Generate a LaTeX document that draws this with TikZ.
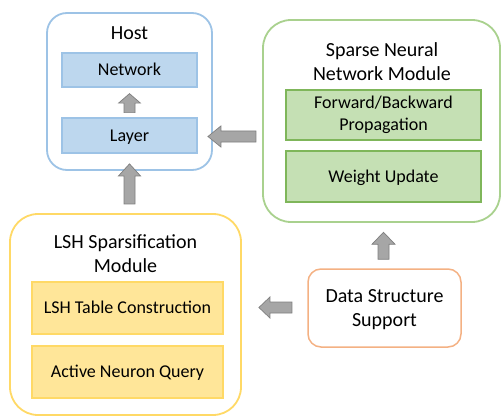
\documentclass[tikz,border=0pt]{standalone}
\usepackage{fontspec}
\setmainfont{Carlito}
\usetikzlibrary{calc}

\definecolor{hostline}{HTML}{9DC3E6}
\definecolor{hostfill}{HTML}{BDD7EE}
\definecolor{snnline}{HTML}{A9D18E}
\definecolor{snninner}{HTML}{7FB65A}
\definecolor{snnfill}{HTML}{C5E0B4}
\definecolor{lshline}{HTML}{FFD966}
\definecolor{lshinner}{HTML}{FFD966}
\definecolor{lshfill}{HTML}{FFE699}
\definecolor{dssline}{HTML}{F4B183}
\definecolor{arrfill}{HTML}{A6A6A6}
\definecolor{arrline}{HTML}{7F7F7F}

\tikzset{
  module/.style={draw, line width=1.8pt, fill=white, inner sep=0pt},
  title/.style={font=\fontsize{20}{24}\selectfont, align=center, inner sep=0pt},
  part/.style={draw, line width=1.3pt, inner sep=0pt,
    font=\fontsize{18}{22}\selectfont, align=center},
  oneline/.style={text height=11.6pt, text depth=0pt},
  blockarrow/.style={fill=arrfill, draw=arrline, line width=0.7pt, line join=miter}
}

% block arrow pointing up: tip, length, head length, half head width, half shaft width
\newcommand{\blockup}[5]{%
  \draw[blockarrow] (#1) -- ++(#4,#3) -- ++(-#4+#5,0) -- ++(0,#2-#3)
    -- ++(-2*#5,0) -- ++(0,-#2+#3) -- ++(-#4+#5,0) -- cycle;}
% block arrow pointing left: tip, length, head length, half head width, half shaft width
\newcommand{\blockleft}[5]{%
  \draw[blockarrow] (#1) -- ++(#3,-#4) -- ++(0,#4-#5) -- ++(#2-#3,0)
    -- ++(0,2*#5) -- ++(-#2+#3,0) -- ++(0,#4-#5) -- cycle;}

\begin{document}
\begin{tikzpicture}[x=1pt,y=-1pt]
\useasboundingbox (0,0) rectangle (503,417);

% Host
\node[module, draw=hostline, rounded corners=20pt,
  minimum width=165pt, minimum height=157pt] (host) at (129.5,91.5) {};
\node[title, anchor=base] (hostT) at (129.5,39.5) {Host};
\node[part, oneline, draw=hostline, fill=hostfill,
  minimum width=135pt, minimum height=34pt] (net) at (129.5,70) {Network};
\node[part, oneline, draw=hostline, fill=hostfill,
  minimum width=135pt, minimum height=35pt] (layer) at (129.5,135.5) {Layer};

% Sparse neural network module
\node[module, draw=snnline, rounded corners=28pt,
  minimum width=237pt, minimum height=202pt] (snn) at (381.5,121) {};
\node[title] (snnT) at (382,61.5) {Sparse Neural\\Network Module};
\node[part, draw=snninner, fill=snnfill,
  minimum width=195pt, minimum height=50pt] (fwd) at (383.5,115)
  {Forward/Backward\\Propagation};
\node[part, oneline, draw=snninner, fill=snnfill,
  minimum width=195pt, minimum height=51pt] (wu) at (383.5,176.5) {Weight Update};

% LSH sparsification module
\node[module, draw=lshline, rounded corners=28pt,
  minimum width=231pt, minimum height=201pt] (lsh) at (125.5,314.5) {};
\node[title] (lshT) at (125.5,253.5) {LSH Sparsification\\Module};
\node[part, oneline, draw=lshinner, fill=lshfill,
  minimum width=191pt, minimum height=52pt] (tbl) at (127.5,308) {LSH Table Construction};
\node[part, oneline, draw=lshinner, fill=lshfill,
  minimum width=191pt, minimum height=52pt] (anq) at (127.5,372) {Active Neuron Query};

% Data structure support
\node[module, draw=dssline, line width=1.5pt, rounded corners=13pt,
  minimum width=153pt, minimum height=78pt] (dss) at (384.5,308) {};
\node[title] (dssT) at (384.5,310) {Data Structure\\Support};

% Block arrows between the parts
\path (net.south) ++(0,6) coordinate (tipA);
\blockup{tipA}{19}{9.5}{11}{5.5}
\path (host.east |- layer.center) ++(-5,1) coordinate (tipB);
\blockleft{tipB}{48}{13}{10.5}{5.5}
\path (host.south) ++(0,-7) coordinate (tipC);
\blockup{tipC}{40}{12}{11}{5.5}
\path (dss.north) ++(-1,-36) coordinate (tipD);
\blockup{tipD}{27}{12}{11.5}{5.5}
\path (lsh.east |- dss.center) ++(17,-0.5) coordinate (tipE);
\blockleft{tipE}{33}{11}{10.5}{5.5}
\end{tikzpicture}
\end{document}
